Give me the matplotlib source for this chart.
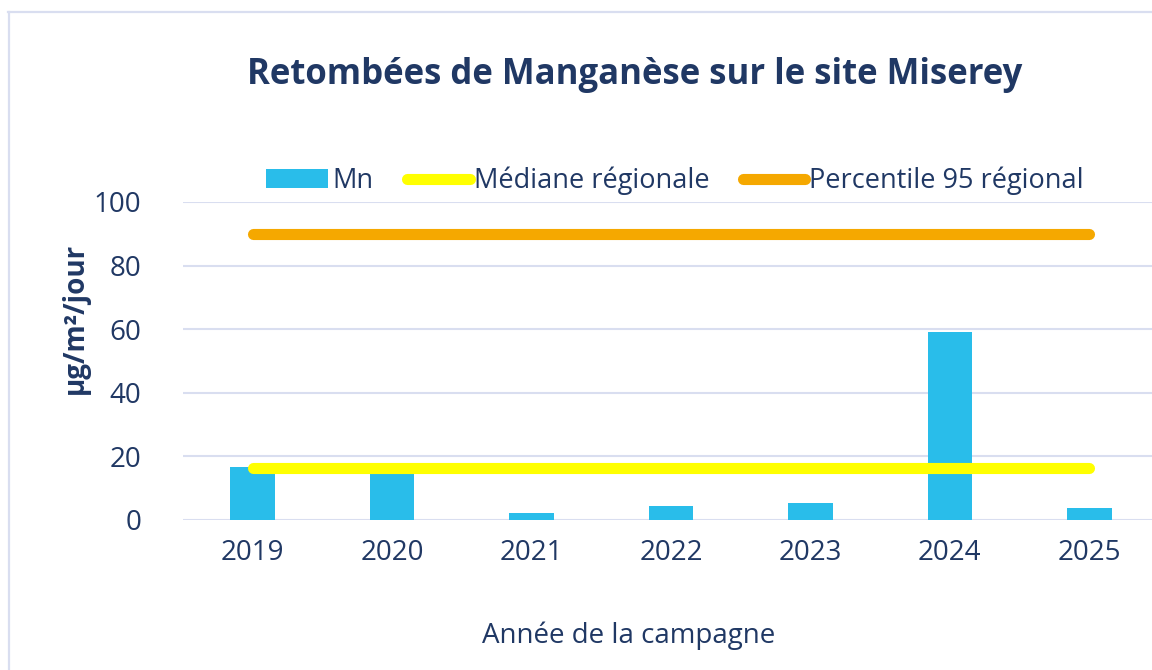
import matplotlib
matplotlib.use("Agg")
import matplotlib.pyplot as plt
from matplotlib.lines import Line2D

# Data
years = ["2019", "2020", "2021", "2022", "2023", "2024", "2025"]
mn = [16.7, 16.0, 2.2, 4.4, 5.2, 59.1, 3.9]
mediane = [16.5, 16.5, 16.5, 16.5, 16.5, 16.5, 16.5]
p95 = [90, 90, 90, 90, 90, 90, 90]

navy = "#203864"
grid_col = "#D9DEF0"
plt.rcParams["font.family"] = ["Open Sans", "DejaVu Sans"]

W, H = 1152, 670
fig = plt.figure(figsize=(W / 100, H / 100), dpi=100)

def fx(px):
    return px / W

def fy(py):
    return 1 - py / H

# light frame of the chart area (only left and top visible)
fig.add_artist(Line2D([fx(9), fx(9)], [fy(12), 0], color=grid_col, lw=1.6))
fig.add_artist(Line2D([fx(8), 1], [fy(12), fy(12)], color=grid_col, lw=1.6))

ax = fig.add_axes([fx(183), fy(520), 1 - fx(183), fy(202) - fy(520)])
x = list(range(len(years)))

bars = ax.bar(x, mn, width=0.32, color="#29BDEA", label="Mn", zorder=2)
l_med, = ax.plot(x, mediane, color="#FFFF00", lw=8, solid_capstyle="round",
                 label="Médiane régionale", zorder=3)
l_p95, = ax.plot(x, p95, color="#F5A800", lw=8, solid_capstyle="round",
                 label="Percentile 95 régional", zorder=3)

ax.set_xlim(-0.5, 6.45)
ax.set_ylim(0, 100)
ax.set_yticks([0, 20, 40, 60, 80, 100])
ax.set_xticks(x)
ax.set_xticklabels(years)
ax.tick_params(axis="both", length=0, labelsize=20, colors=navy)
ax.tick_params(axis="x", pad=14)
ax.tick_params(axis="y", pad=30)
ax.grid(axis="y", color=grid_col, lw=1.5, zorder=0)
ax.set_axisbelow(True)
for s in ax.spines.values():
    s.set_visible(False)

fig.text(fx(635), fy(75), "Retombées de Manganèse sur le site Miserey",
         ha="center", va="center", fontsize=25, fontweight="bold", color=navy)
fig.text(fx(75), fy(318), "µg/m²/jour", rotation=90, ha="center", va="center",
         fontsize=20, fontweight="bold", color=navy)
fig.text(fx(629), fy(636), "Année de la campagne", ha="center", va="center",
         fontsize=20, color=navy)

fig.legend(handles=[bars, l_med, l_p95], loc="center",
           bbox_to_anchor=(fx(675), fy(181)), ncol=3,
           frameon=False, fontsize=19.5, labelcolor=navy, handlelength=2.3,
           handletextpad=0.15, columnspacing=1.25)

fig.savefig("out.png", dpi=100)
